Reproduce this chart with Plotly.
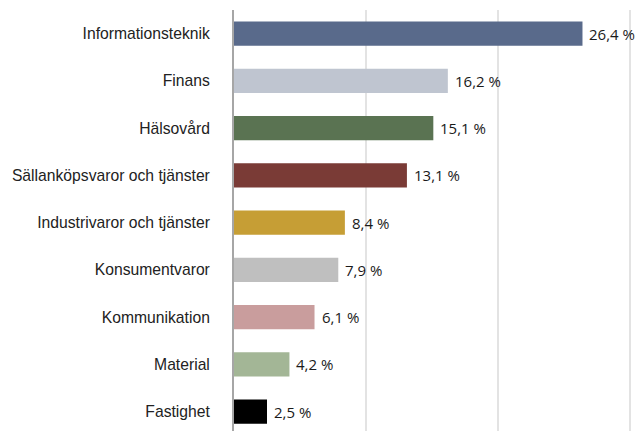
import plotly.graph_objects as go

categories = ["Informationsteknik", "Finans", "Hälsovård", "Sällanköpsvaror och tjänster",
              "Industrivaror och tjänster", "Konsumentvaror", "Kommunikation", "Material", "Fastighet"]
values = [26.4, 16.2, 15.1, 13.1, 8.4, 7.9, 6.1, 4.2, 2.5]
colors = ["#596a8b", "#bfc5d0", "#5a7352", "#7a3b36", "#c69e35", "#bfbfbf", "#c99d9d", "#a3b696", "#000000"]
labels = [f"{v:.1f} %".replace(".", ",") for v in values]

fig = go.Figure()
fig.add_trace(go.Bar(
    x=values, y=categories, orientation="h",
    marker=dict(color=colors, line=dict(width=0)),
    width=0.51, hoverinfo="skip",
))
for v, c, t in zip(values, categories, labels):
    fig.add_annotation(x=v, y=c, text=t, showarrow=False, xanchor="left", yanchor="middle",
                       xshift=5, font=dict(family="Open Sans", size=15, color="#1a1a1a"))

fig.update_layout(
    width=637, height=431,
    margin=dict(l=234, r=0, t=10, b=0, autoexpand=False),
    plot_bgcolor="white", paper_bgcolor="white",
    showlegend=False,
    font=dict(family="Liberation Sans, Arial", size=15.7, color="#222222"),
)
fig.update_xaxes(range=[0, 30.53], tickvals=[0, 10, 20, 30], showticklabels=False,
                 showgrid=True, gridcolor="#e3e3e3", gridwidth=1.5, zeroline=False,
                 automargin=False, fixedrange=True)
fig.update_yaxes(categoryorder="array", categoryarray=categories, range=[8.41, -0.5],
                 autorange=False, showgrid=False, showline=True, linecolor="#a6a6a6", linewidth=2,
                 ticks="", ticklabelstandoff=19, zeroline=False, automargin=False)

fig.write_html("out.html", config={"displayModeBar": False},
               post_script="document.body.style.margin='0';document.body.style.overflow='hidden';")
